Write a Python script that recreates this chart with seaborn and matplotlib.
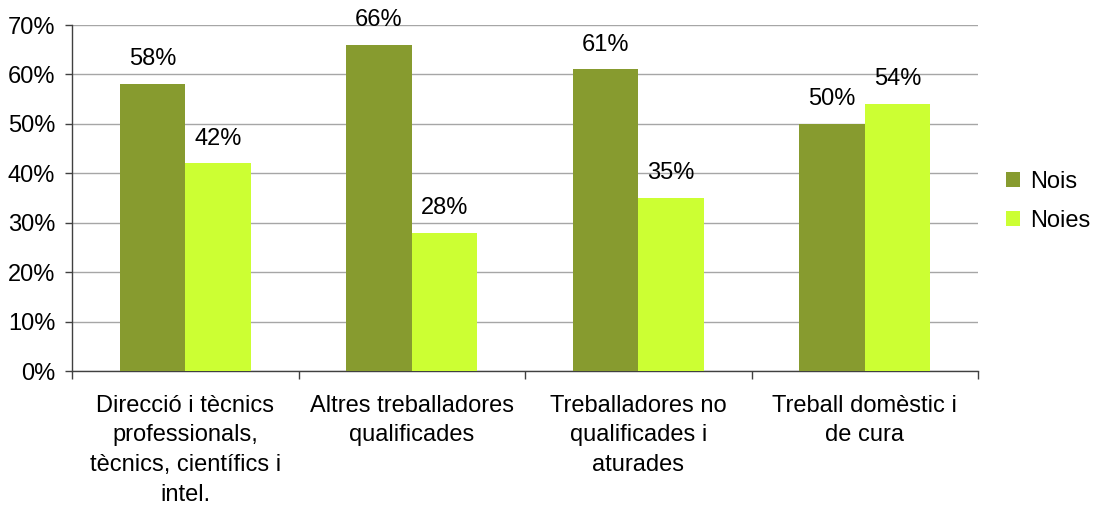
import matplotlib
matplotlib.use("Agg")
import matplotlib.pyplot as plt
import seaborn as sns
import pandas as pd
from matplotlib.ticker import FixedLocator, PercentFormatter

categories = ["Direcció i tècnics\nprofessionals,\ntècnics, científics i\nintel.",
              "Altres treballadores\nqualificades",
              "Treballadores no\nqualificades i\naturades",
              "Treball domèstic i\nde cura"]
nois = [58, 66, 61, 50]
noies = [42, 28, 35, 54]
series = ["Nois", "Noies"]
colors = ["#879B2F", "#CCFF33"]

df = pd.DataFrame({
    "cat": categories * 2,
    "val": nois + noies,
    "serie": [series[0]] * 4 + [series[1]] * 4,
})

sns.set_style("white")
plt.rcParams["font.family"] = ["Liberation Sans", "DejaVu Sans"]
plt.rcParams["text.color"] = "black"
plt.rcParams["xtick.color"] = "black"
plt.rcParams["ytick.color"] = "black"
FS = 17

fig = plt.figure(figsize=(10.95, 5.09), dpi=100)
ax = fig.add_axes([72/1095, 1-371/509, (978-72)/1095, (371-25)/509])

sns.barplot(data=df, x="cat", y="val", hue="serie", palette=colors,
            width=0.58, saturation=1, ax=ax, legend=True, zorder=3,
            linewidth=0, edgecolor="none")

ax.set_xlim(-0.5, 3.5)
ax.set_ylim(0, 70)
ax.yaxis.set_major_locator(FixedLocator(range(0, 71, 10)))
ax.yaxis.set_major_formatter(PercentFormatter(decimals=0))
ax.grid(axis="y", color="#A6A6A6", linewidth=1, zorder=0)
ax.set_axisbelow(True)
for s in ["top", "right"]:
    ax.spines[s].set_visible(False)
for s in ["left", "bottom"]:
    ax.spines[s].set_color("#404040")
    ax.spines[s].set_linewidth(1)

ax.tick_params(axis="y", length=5, width=1, color="#404040", labelcolor="black",
               labelsize=FS, pad=7, left=True)
ax.tick_params(axis="x", which="major", length=0, labelsize=FS, pad=17, labelcolor="black")
ax.xaxis.set_minor_locator(FixedLocator([-0.5, 0.5, 1.5, 2.5, 3.5]))
ax.tick_params(axis="x", which="minor", length=6, width=1, color="#404040", bottom=True)
for lbl in ax.get_xticklabels():
    lbl.set_linespacing(1.45)
    lbl.set_ha("center")
ax.set_xlabel("")
ax.set_ylabel("")

for cont in ax.containers:
    ax.bar_label(cont, labels=[f"{int(v)}%" for v in cont.datavalues],
                 padding=10, fontsize=FS, color="black", clip_on=False)

leg = ax.legend(loc="center left", bbox_to_anchor=(1.013, 0.49), frameon=False,
                fontsize=FS, handlelength=0.6, handleheight=0.6, handletextpad=0.4,
                labelspacing=0.7, borderaxespad=0.3)
for t in leg.get_texts():
    t.set_color("black")

fig.savefig("out.png", dpi=100)
